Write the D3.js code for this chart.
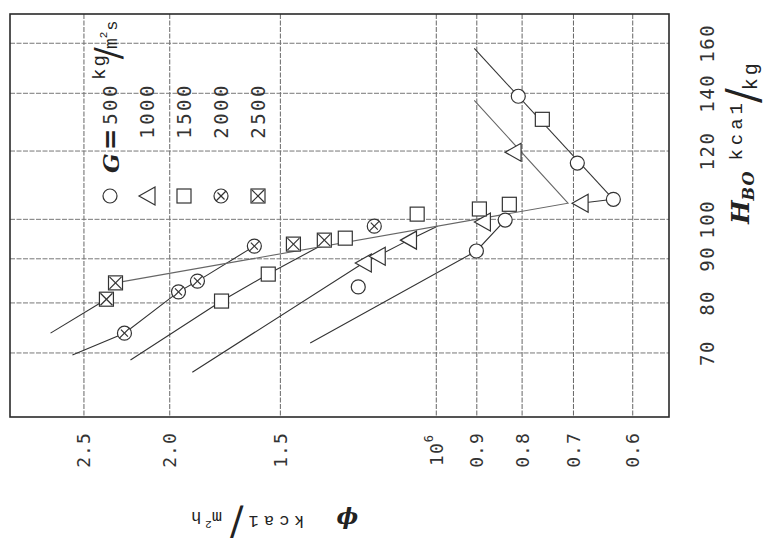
<!DOCTYPE html>
<html>
<head>
<meta charset="utf-8">
<script src="https://cdn.jsdelivr.net/npm/d3@7"></script>
<style>
body { margin: 0; background: #fff; }
</style>
</head>
<body>
<script>
// axis ticks
const phiTicks = [2.5, 2.0, 1.5, 1.0, 0.9, 0.8, 0.7, 0.6];
const phiLabels = ["2.5", "2.0", "1.5", "10", "0.9", "0.8", "0.7", "0.6"];
const hTicks = [70, 80, 90, 100, 120, 140, 160];

// mass velocity G (kg/m²s) and its marker
const gValues = [500, 1000, 1500, 2000, 2500];
const gSymbols = ["circle", "triangle", "square", "circlex", "squarex"];

// measured points, [phi, H_BO]
const pts500 = [[1.225, 83.5], [0.901, 91.9], [0.836, 99.8], [0.631, 105.5], [0.693, 116.2], [0.808, 138.9]];
const pts1000 = [[1.209, 89.0], [1.166, 90.6], [1.075, 94.6], [0.887, 99.3], [0.688, 104.4], [0.819, 119.6]];
const pts1500 = [[1.748, 80.4], [1.548, 86.4], [1.267, 95.1], [1.051, 101.4], [0.894, 102.8], [0.827, 104.1], [0.759, 130.6]];
const pts2000 = [[2.250, 73.8], [1.955, 82.4], [1.861, 84.8], [1.605, 93.1], [1.175, 98.2]];
const pts2500 = [[2.358, 80.8], [2.303, 84.4], [1.450, 93.6], [1.338, 94.6]];

// the drawn curves
const line500 = [[1.388, 71.9], [0.901, 91.9], [0.836, 99.8]];
const line1000 = [[1.886, 66.5], [1.209, 89.0], [1.166, 90.6], [1.075, 94.6], [0.997, 98.2]];
const line1500 = [[2.215, 68.7], [1.748, 80.4], [1.548, 86.4], [1.359, 92.9]];
const line2000 = [[2.576, 69.6], [2.250, 73.8], [1.955, 82.4], [1.861, 84.8], [1.605, 93.1]];
const line2500 = [[2.727, 73.8], [2.358, 80.8]];
const lineCommon = [[2.303, 84.4], [0.710, 104.4], [0.906, 137.4]];
const lineHighA = [[0.906, 157.8], [0.631, 105.5]];
const lineHighB = [[0.688, 104.4], [0.631, 105.5]];

const width = 779, height = 554;
const plot = { left: 10, right: 669, top: 14, bottom: 417 };

let svg = d3.select("body").append("svg")
    .attr("width", width)
    .attr("height", height)
    .style("background", "#fff");

let x = d3.scaleLog().domain([3.03, 0.546]).range([plot.left, plot.right]);
let y = d3.scaleLog().domain([59, 173]).range([plot.bottom, plot.top]);

const ink = "#2a2a2a";
const mono = "'DejaVu Sans Mono', monospace";
const type = "'Liberation Mono', monospace";
const serif = "'DejaVu Serif', 'Liberation Serif', serif";

// grid
svg.append("g").selectAll("line").data(phiTicks).join("line")
    .attr("x1", d => x(d)).attr("x2", d => x(d))
    .attr("y1", plot.top).attr("y2", plot.bottom)
    .attr("stroke", "#666").attr("stroke-width", 1)
    .attr("stroke-dasharray", "5,1.5");
svg.append("g").selectAll("line").data(hTicks).join("line")
    .attr("y1", d => y(d)).attr("y2", d => y(d))
    .attr("x1", plot.left).attr("x2", plot.right)
    .attr("stroke", "#777").attr("stroke-width", 1)
    .attr("stroke-dasharray", "5,1.5");

// frame
svg.append("rect")
    .attr("x", plot.left).attr("y", plot.top)
    .attr("width", plot.right - plot.left).attr("height", plot.bottom - plot.top)
    .attr("fill", "none").attr("stroke", ink).attr("stroke-width", 1.6);

// curves
let path = d3.line().x(d => x(d[0])).y(d => y(d[1]));
[line500, line1000, line1500, line2000, line2500, lineHighA, lineHighB].forEach(l => {
    svg.append("path").attr("d", path(l))
        .attr("fill", "none").attr("stroke", "#333").attr("stroke-width", 1.1);
});
svg.append("path").attr("d", path(lineCommon))
    .attr("fill", "none").attr("stroke", "#666").attr("stroke-width", 1.1);

// markers
function marker(g, kind, cx, cy) {
    let st = s => s.attr("fill", "#fff").attr("stroke", "#333").attr("stroke-width", 1.2);
    if (kind == "circle" || kind == "circlex") {
        st(g.append("circle").attr("cx", cx).attr("cy", cy).attr("r", 7));
    }
    if (kind == "square" || kind == "squarex") {
        st(g.append("rect").attr("x", cx - 7).attr("y", cy - 7).attr("width", 14).attr("height", 14));
    }
    if (kind == "triangle") {
        st(g.append("path").attr("d", `M${cx - 8},${cy} L${cx + 8},${cy - 9} L${cx + 8},${cy + 9} Z`));
    }
    if (kind == "circlex" || kind == "squarex") {
        let a = kind == "circlex" ? 5 : 6;
        g.append("line").attr("x1", cx - a).attr("y1", cy + a).attr("x2", cx + a).attr("y2", cy - a)
            .attr("stroke", "#333").attr("stroke-width", 1.2);
        let b = kind == "circlex" ? 3.5 : 6;
        g.append("line").attr("x1", cx - b).attr("y1", cy - b).attr("x2", cx + b).attr("y2", cy + b)
            .attr("stroke", "#333").attr("stroke-width", 1.2);
    }
}

let allPts = [pts500, pts1000, pts1500, pts2000, pts2500];
allPts.forEach((pts, i) => {
    let g = svg.append("g");
    pts.forEach(p => marker(g, gSymbols[i], x(p[0]), y(p[1])));
});

// phi tick labels, rotated
phiTicks.forEach((v, i) => {
    let t = svg.append("text")
        .attr("transform", `translate(${x(v)},450) rotate(-90)`)
        .attr("text-anchor", "middle")
        .attr("dominant-baseline", "central")
        .style("font-family", mono).style("font-size", "18px")
        .style("letter-spacing", "1px")
        .attr("fill", "#333")
        .text(phiLabels[i]);
    if (v == 1.0) {
        t.append("tspan").attr("baseline-shift", "super").style("font-size", "12px").text("6");
    }
});

// H tick labels, rotated
hTicks.forEach(v => {
    svg.append("text")
        .attr("transform", `translate(707,${y(v)}) rotate(-90)`)
        .attr("text-anchor", "middle")
        .attr("dominant-baseline", "central")
        .style("font-family", mono).style("font-size", "19px")
        .style("letter-spacing", "1.5px")
        .attr("fill", "#333")
        .text(v);
});

// H axis title
let ht = svg.append("text")
    .attr("transform", "translate(740,224) rotate(-90)")
    .attr("dominant-baseline", "central")
    .attr("fill", "#222");
ht.append("tspan").style("font-family", serif).style("font-style", "italic").style("font-weight", "bold")
    .style("font-size", "25px").text("H");
ht.append("tspan").style("font-family", serif).style("font-style", "italic").style("font-weight", "bold")
    .style("font-size", "16px").attr("dy", 8).style("letter-spacing", "1px").text("BO");
ht.append("tspan").style("font-family", type).style("font-size", "19px").style("letter-spacing", "4px")
    .attr("dx", 10).attr("dy", -11).text("kca1");
ht.append("tspan").style("font-family", serif).style("font-size", "44px").attr("dx", -4).attr("dy", 5).text("/");
ht.append("tspan").style("font-family", type).style("font-size", "20px").style("letter-spacing", "3px")
    .attr("dx", -2).attr("dy", 9).text("kg");

// phi axis title, upside down
let pt = svg.append("text")
    .attr("transform", "translate(358,521) rotate(180)")
    .attr("dominant-baseline", "central")
    .attr("fill", "#222");
pt.append("tspan").style("font-family", serif).style("font-style", "italic").style("font-weight", "bold")
    .style("font-size", "23px").text("ϕ");
pt.append("tspan").style("font-family", type).style("font-size", "17px").style("letter-spacing", "5px")
    .attr("dx", 32).text("kca1");
pt.append("tspan").style("font-family", serif).style("font-size", "40px").attr("dx", 0).attr("dy", -2).text("/");
pt.append("tspan").style("font-family", type).style("font-size", "17px").attr("dx", 8).attr("dy", 6).text("m");
pt.append("tspan").style("font-family", type).style("font-size", "11px").attr("dy", -7).text("2");
pt.append("tspan").style("font-family", type).style("font-size", "17px").attr("dx", 4).attr("dy", 7).text("h");

// legend
gValues.forEach((gv, i) => {
    let lx = 110 + i * 37;
    marker(svg.append("g"), gSymbols[i], lx, 196);
    svg.append("text")
        .attr("transform", `translate(${lx},83) rotate(-90)`)
        .attr("text-anchor", "end")
        .attr("dominant-baseline", "central")
        .style("font-family", mono).style("font-size", "19px")
        .style("letter-spacing", "2.5px")
        .attr("fill", "#333")
        .text(gv);
});
let lg = svg.append("text")
    .attr("transform", "translate(110,173) rotate(-90)")
    .attr("dominant-baseline", "central")
    .attr("fill", "#222");
lg.append("tspan").style("font-family", serif).style("font-style", "italic").style("font-weight", "bold")
    .style("font-size", "23px").text("G");
lg.append("tspan").style("font-family", serif).style("font-weight", "bold")
    .style("font-size", "26px").attr("dx", 3).text("=");
let lu = svg.append("text")
    .attr("transform", "translate(111,80) rotate(-90)")
    .attr("dominant-baseline", "central")
    .attr("fill", "#222");
lu.append("tspan").style("font-family", type).style("font-size", "19px").style("letter-spacing", "2px")
    .attr("dy", -11).text("kg");
lu.append("tspan").style("font-family", serif).style("font-size", "36px").attr("dy", 7).attr("dx", -6).text("/");
lu.append("tspan").style("font-family", type).style("font-size", "18px").attr("dx", -2).attr("dy", 5).text("m");
lu.append("tspan").style("font-family", type).style("font-size", "11px").attr("dy", -8).text("2");
lu.append("tspan").style("font-family", type).style("font-size", "17px").attr("dx", 1).attr("dy", 8).text("s");
</script>
</body>
</html>
